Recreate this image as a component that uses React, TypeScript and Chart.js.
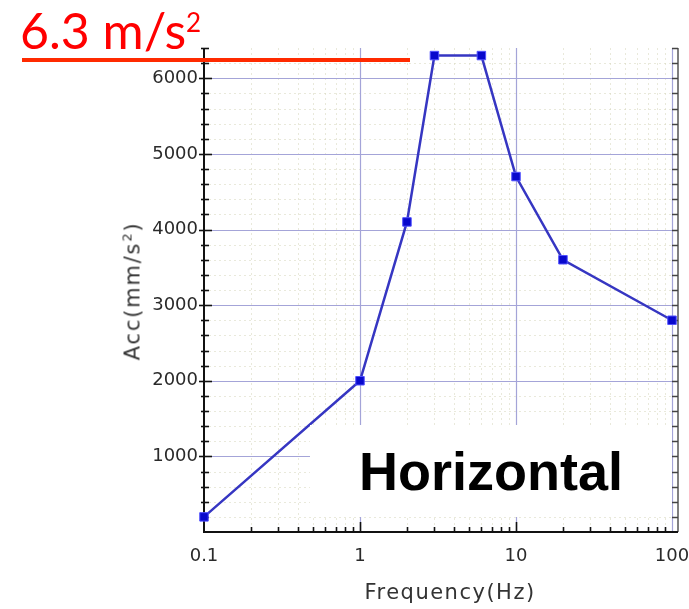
import React, { useEffect, useRef } from "react";
import { Chart, registerables } from "chart.js";

Chart.register(...registerables);

// ---- data ----
const frequencies = [0.1, 1, 2, 3, 6, 10, 20, 100];
const accelerations = [200, 2000, 4100, 6300, 6300, 4700, 3600, 2800];
const xDecadeTicks = [0.1, 1, 10, 100];
const yLabelTicks = [1000, 2000, 3000, 4000, 5000, 6000];
const xMin = 0.1;
const xMax = 100;
const yMin = 0;
const yMax = 6400;
const yMinorStep = 200;
const yMajorStep = 1000;
const xMajorGrid = [1, 10];
const thresholdText = "6.3 m/s";
const thresholdSup = "2";
const annotationText = "Horizontal";
const xTitle = "Frequency(Hz)";
const yTitleMain = "Acc(mm/s";
const yTitleSup = "2";
const yTitleEnd = ")";

const minorX: number[] = [];
[0.1, 1, 10].forEach((d) => {
  for (let k = 2; k <= 9; k++) minorX.push(+(d * k).toFixed(3));
});

const framePlugin = {
  id: "frame",
  beforeDatasetsDraw(chart: any) {
    const { ctx, chartArea: a, scales } = chart;
    const xs = scales.x;
    const ys = scales.y;
    ctx.save();
    // minor grid
    ctx.lineWidth = 1;
    ctx.setLineDash([2, 3]);
    ctx.strokeStyle = "rgba(215,215,190,0.55)";
    minorX.forEach((v) => {
      const px = Math.round(xs.getPixelForValue(v)) + 0.5;
      ctx.beginPath();
      ctx.moveTo(px, a.top);
      ctx.lineTo(px, a.bottom);
      ctx.stroke();
    });
    for (let v = yMinorStep; v < yMax; v += yMinorStep) {
      if (v % yMajorStep === 0) continue;
      const py = Math.round(ys.getPixelForValue(v)) + 0.5;
      ctx.beginPath();
      ctx.moveTo(a.left, py);
      ctx.lineTo(a.right, py);
      ctx.stroke();
    }
    // major grid
    ctx.setLineDash([]);
    ctx.strokeStyle = "#a4a4d8";
    ctx.lineWidth = 1.2;
    [...xMajorGrid, xMax].forEach((v) => {
      const px = Math.round(xs.getPixelForValue(v)) + 0.5;
      ctx.beginPath();
      ctx.moveTo(px, a.top);
      ctx.lineTo(px, a.bottom);
      ctx.stroke();
    });
    yLabelTicks.forEach((v) => {
      const py = Math.round(ys.getPixelForValue(v)) + 0.5;
      ctx.beginPath();
      ctx.moveTo(a.left, py);
      ctx.lineTo(a.right + 6, py);
      ctx.stroke();
    });

    // right frame (ladder)
    ctx.strokeStyle = "#555";
    ctx.lineWidth = 1.5;
    ctx.beginPath();
    ctx.moveTo(a.right + 6, a.top);
    ctx.lineTo(a.right + 6, a.bottom);
    ctx.stroke();
    ctx.strokeStyle = "#444";
    ctx.lineWidth = 1.5;
    for (let v = yMin + yMinorStep; v <= yMax; v += yMinorStep) {
      const py = Math.round(ys.getPixelForValue(v)) + 0.5;
      ctx.beginPath();
      ctx.moveTo(a.right, py);
      ctx.lineTo(a.right + 6, py);
      ctx.stroke();
    }

    // left + bottom axes
    ctx.strokeStyle = "#111";
    ctx.lineWidth = 2;
    ctx.beginPath();
    ctx.moveTo(a.left, a.top);
    ctx.lineTo(a.left, a.bottom);
    ctx.lineTo(a.right + 6, a.bottom);
    ctx.stroke();
    ctx.lineWidth = 1.6;
    for (let v = yMin + yMinorStep; v <= yMax; v += yMinorStep) {
      const py = Math.round(ys.getPixelForValue(v)) + 0.5;
      const major = v % yMajorStep === 0;
      ctx.beginPath();
      ctx.moveTo(a.left - (major ? 5 : 3), py);
      ctx.lineTo(a.left + (major ? 8 : 5), py);
      ctx.stroke();
    }
    const bottomTicks = [...minorX.map((v) => ({ v, major: false })), ...xMajorGrid.map((v) => ({ v, major: true }))];
    bottomTicks.forEach(({ v, major }) => {
      const px = Math.round(xs.getPixelForValue(v)) + 0.5;
      ctx.beginPath();
      ctx.moveTo(px, a.bottom);
      ctx.lineTo(px, a.bottom - (major ? 10 : 5));
      ctx.stroke();
    });
    ctx.restore();
  },
};

export default function App() {
  const canvasRef = useRef<HTMLCanvasElement | null>(null);

  useEffect(() => {
    if (!canvasRef.current) return;
    const chart = new Chart(canvasRef.current, {
      type: "line",
      data: {
        datasets: [
          {
            data: frequencies.map((f, i) => ({ x: f, y: accelerations[i] })),
            borderColor: "#3636c2",
            borderWidth: 2.5,
            tension: 0,
            pointStyle: "rect",
            pointRadius: 6,
            pointBackgroundColor: "#0808cc",
            pointBorderColor: "#5050ff",
            pointBorderWidth: 1,
            clip: false as any,
          },
        ],
      },
      options: {
        animation: false,
        responsive: false,
        layout: { padding: { top: 48, right: 17, left: 0, bottom: 0 } },
        plugins: { legend: { display: false }, tooltip: { enabled: false } },
        scales: {
          x: {
            type: "logarithmic",
            min: xMin,
            max: xMax,
            grid: { display: false, drawTicks: false },
            border: { display: false },
            afterBuildTicks: (scale: any) => {
              scale.ticks = xDecadeTicks.map((v) => ({ value: v }));
            },
            afterFit: (scale: any) => {
              scale.height = 77;
              scale.paddingLeft = 0;
              scale.paddingRight = 0;
            },
            ticks: {
              autoSkip: false,
              maxRotation: 0,
              padding: 14,
              color: "#2a2a2a",
              font: { family: "DejaVu Sans", size: 18 },
              callback: (v: any) => String(v),
            },
          },
          y: {
            type: "linear",
            min: yMin,
            max: yMax,
            grid: { display: false, drawTicks: false },
            border: { display: false },
            afterBuildTicks: (scale: any) => {
              scale.ticks = yLabelTicks.map((v) => ({ value: v }));
            },
            afterFit: (scale: any) => {
              scale.width = 204;
            },
            ticks: {
              padding: 6,
              color: "#2a2a2a",
              font: { family: "DejaVu Sans", size: 18 },
              callback: (v: any) => String(v),
            },
          },
        },
      } as any,
      plugins: [framePlugin],
    });
    return () => chart.destroy();
  }, []);

  return (
    <div style={{ position: "absolute", left: 0, top: 0, width: 689, height: 609, background: "#fff", overflow: "hidden" }}>
      <canvas ref={canvasRef} width={689} height={609} style={{ position: "absolute", left: 0, top: 0 }} />
      <div
        style={{
          position: "absolute",
          left: 20,
          top: 5,
          fontFamily: "Lato",
          fontSize: 50,
          lineHeight: 1,
          color: "#ff0000",
          whiteSpace: "nowrap",
        }}
      >
        {thresholdText}
        <span style={{ fontSize: 26, verticalAlign: 17 }}>{thresholdSup}</span>
      </div>
      <div style={{ position: "absolute", left: 22, top: 58, width: 388, height: 4, background: "#ff2a00" }} />
      <div
        style={{
          position: "absolute",
          left: 310,
          top: 425,
          width: 362,
          height: 92,
          background: "#fff",
          display: "flex",
          alignItems: "center",
          justifyContent: "center",
          fontFamily: "Liberation Sans, Arial, sans-serif",
          fontWeight: "bold",
          fontSize: 54,
          color: "#000",
        }}
      >
        {annotationText}
      </div>
      <div
        style={{
          position: "absolute",
          left: 450,
          top: 582,
          transform: "translateX(-50%)",
          fontFamily: "DejaVu Sans",
          fontSize: 21,
          lineHeight: 1,
          letterSpacing: 1.5,
          color: "#333",
          whiteSpace: "nowrap",
        }}
      >
        {xTitle}
      </div>
      <div
        style={{
          position: "absolute",
          left: 132,
          top: 291,
          transform: "translate(-50%, -50%) rotate(-90deg)",
          fontFamily: "DejaVu Sans",
          fontSize: 21,
          lineHeight: 1,
          letterSpacing: 1.8,
          color: "#333",
          whiteSpace: "nowrap",
        }}
      >
        {yTitleMain}
        <span style={{ fontSize: 13, verticalAlign: 8 }}>{yTitleSup}</span>
        {yTitleEnd}
      </div>
    </div>
  );
}
